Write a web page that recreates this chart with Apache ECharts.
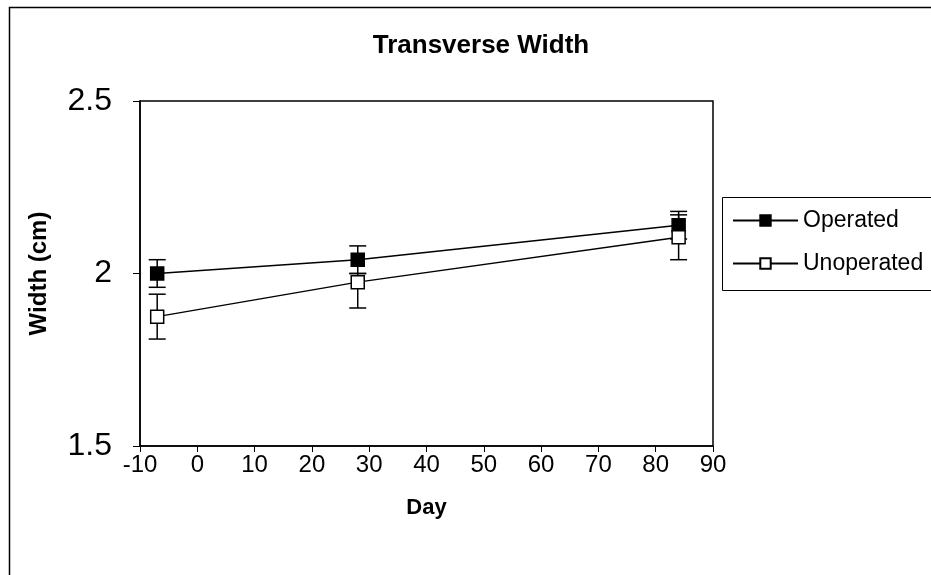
<!DOCTYPE html>
<html>
<head>
<meta charset="utf-8">
<script src="https://cdn.jsdelivr.net/npm/echarts@6/dist/echarts.min.js"></script>
<style>
  html, body { margin: 0; padding: 0; background: #fff; }
  #main { width: 931px; height: 575px; }
</style>
</head>
<body>
<div id="main"></div>
<script>
// values
var days = [-7, 28, 84];
var operated = [2.00, 2.04, 2.14];
var operatedLow = [1.96, 2.00, 2.10];
var operatedHigh = [2.04, 2.08, 2.18];
var unoperated = [1.875, 1.975, 2.105];
var unoperatedLow = [1.81, 1.90, 2.04];
var unoperatedHigh = [1.94, 2.00, 2.17];
var xTicks = { min: -10, max: 90, step: 10 };
var yTicks = { min: 1.5, max: 2.5, step: 0.5 };

var font = "Liberation Sans, Arial, sans-serif";

function pairs(ys) {
  return days.map(function (d, i) { return [d, ys[i]]; });
}
function bars(lo, hi) {
  return days.map(function (d, i) { return [d, lo[i], hi[i]]; });
}

// error bar: vertical stem with short caps
function errorBar(params, api) {
  var x = api.value(0);
  var top = api.coord([x, api.value(2)]);
  var bot = api.coord([x, api.value(1)]);
  var half = 8.5;
  var style = { stroke: "#000", lineWidth: 1.5 };
  return {
    type: "group",
    children: [
      { type: "line", shape: { x1: top[0], y1: top[1], x2: bot[0], y2: bot[1] }, style: style },
      { type: "line", shape: { x1: top[0] - half, y1: top[1], x2: top[0] + half, y2: top[1] }, style: style },
      { type: "line", shape: { x1: bot[0] - half, y1: bot[1], x2: bot[0] + half, y2: bot[1] }, style: style }
    ]
  };
}

var myChart = echarts.init(document.getElementById("main"));

myChart.setOption({
  animation: false,
  backgroundColor: "#fff",
  textStyle: { fontFamily: font, color: "#000" },
  title: {
    text: "Transverse Width",
    left: 476,
    top: 28,
    textAlign: "center",
    textStyle: { fontFamily: font, fontSize: 26, fontWeight: "bold", color: "#000" }
  },
  graphic: [
    // outer chart border (right and bottom edges fall outside the picture)
    { type: "rect", left: 7, top: 5, shape: { width: 1000, height: 1000 },
      style: { fill: "none", stroke: "#000", lineWidth: 1.5 }, silent: true },
    // legend frame
    { type: "rect", left: 722, top: 197, shape: { width: 300, height: 93 },
      style: { fill: "#fff", stroke: "#000", lineWidth: 1 }, silent: true, z: -1 }
  ],
  legend: {
    orient: "vertical",
    left: 732,
    top: 209,
    padding: 0,
    itemWidth: 65,
    itemHeight: 13,
    itemGap: 20,
    data: ["Operated", "Unoperated"],
    textStyle: { fontFamily: font, fontSize: 23, color: "#000", padding: [0, 0, 0, 0] }
  },
  grid: {
    left: 140,
    right: 218,
    top: 101,
    bottom: 129,
    show: true,
    borderColor: "#000",
    borderWidth: 1.5,
    backgroundColor: "#fff"
  },
  xAxis: {
    type: "value",
    min: xTicks.min,
    max: xTicks.max,
    interval: xTicks.step,
    name: "Day",
    nameLocation: "middle",
    nameGap: 51,
    nameTextStyle: { fontFamily: font, fontSize: 22, fontWeight: "bold", color: "#000" },
    axisLine: { onZero: false, lineStyle: { color: "#000", width: 1.5 } },
    axisTick: { inside: false, length: 6, lineStyle: { color: "#000" } },
    axisLabel: { fontFamily: font, fontSize: 24, color: "#000", margin: 7 },
    splitLine: { show: false }
  },
  yAxis: {
    type: "value",
    min: yTicks.min,
    max: yTicks.max,
    interval: yTicks.step,
    name: "Width (cm)",
    nameLocation: "middle",
    nameGap: 89,
    nameTextStyle: { fontFamily: font, fontSize: 24, fontWeight: "bold", color: "#000" },
    axisLine: { show: true, onZero: false, lineStyle: { color: "#000", width: 1.5 } },
    axisTick: { show: true, inside: false, length: 7, lineStyle: { color: "#000" } },
    axisLabel: { fontFamily: font, fontSize: 32, color: "#000", margin: 28 },
    splitLine: { show: false }
  },
  series: [
    {
      name: "Operated err",
      type: "custom",
      renderItem: errorBar,
      data: bars(operatedLow, operatedHigh),
      z: 1
    },
    {
      name: "Unoperated err",
      type: "custom",
      renderItem: errorBar,
      data: bars(unoperatedLow, unoperatedHigh),
      z: 1
    },
    {
      name: "Operated",
      type: "line",
      data: pairs(operated),
      symbol: "rect",
      symbolSize: 13,
      lineStyle: { color: "#000", width: 1.5 },
      itemStyle: { color: "#000", borderColor: "#000", borderWidth: 1.5 },
      z: 3
    },
    {
      name: "Unoperated",
      type: "line",
      data: pairs(unoperated),
      symbol: "rect",
      symbolSize: 13,
      lineStyle: { color: "#000", width: 1.5 },
      itemStyle: { color: "#fff", borderColor: "#000", borderWidth: 1.5 },
      z: 3
    }
  ]
});
</script>
</body>
</html>
